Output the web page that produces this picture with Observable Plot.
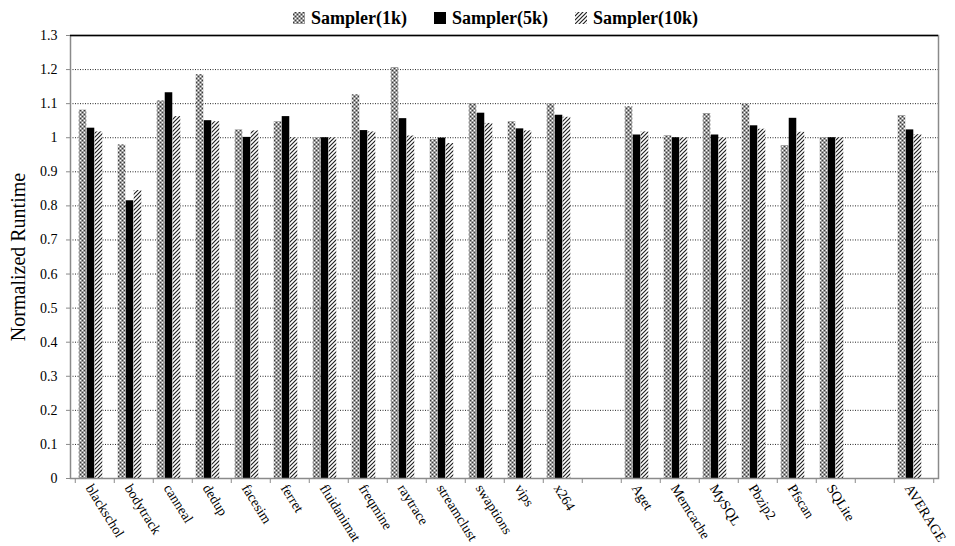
<!DOCTYPE html>
<html><head><meta charset="utf-8">
<script src="https://cdn.jsdelivr.net/npm/d3@7"></script>
<script src="https://cdn.jsdelivr.net/npm/@observablehq/plot@0.6"></script>
<style>
body{margin:0;background:#fff;font-family:"Liberation Serif","Times New Roman",serif;}
#wrap{position:relative;width:955px;height:546px;overflow:hidden;}
#legend{position:absolute;left:293px;top:0;height:32px;display:flex;align-items:center;gap:27px;font-weight:bold;font-size:18px;padding-top:4px;box-sizing:border-box;}
#legend .item{display:flex;align-items:center;gap:6px;}
#chart{position:absolute;left:0;top:0;}
</style>
</head><body>
<svg width="0" height="0" style="position:absolute"><defs>
<pattern id="p1k" patternUnits="userSpaceOnUse" width="4" height="4">
<rect width="4" height="4" fill="#9c9c9c"/>
<rect x="0" y="0" width="1" height="1" fill="#fff"/>
<rect x="2" y="2" width="1" height="1" fill="#fff"/>
<rect x="2" y="0" width="1" height="1" fill="#3a3a3a"/>
<rect x="0" y="2" width="1" height="1" fill="#3a3a3a"/>
</pattern>
<pattern id="p10k" patternUnits="userSpaceOnUse" width="4" height="4">
<rect width="4" height="4" fill="#fff"/>
<path d="M0,4 L4,0 M-1,1 L1,-1 M3,5 L5,3" stroke="#222" stroke-width="1.2"/>
</pattern>
</defs></svg>
<div id="wrap"><div id="chart"></div><div id="legend"></div></div>
<script>
const categories = ["blackschol","bodytrack","canneal","dedup","facesim","ferret","fluidanimat","freqmine","raytrace","streamclust","swaptions","vips","x264","gap1","Aget","Memcache","MySQL","Pbzip2","Pfscan","SQLite","gap2","AVERAGE"];
const series = ["Sampler(1k)","Sampler(5k)","Sampler(10k)"];
const sampler1k  = [1.081,0.979,1.108,1.185,1.023,1.047,1.000,1.126,1.206,0.995,1.100,1.047,1.100,null,1.091,1.006,1.071,1.099,0.977,1.000,null,1.065];
const sampler5k  = [1.028,0.815,1.132,1.050,1.001,1.062,1.000,1.021,1.056,0.999,1.072,1.026,1.066,null,1.008,1.000,1.008,1.035,1.057,1.000,null,1.023];
const sampler10k = [1.017,0.845,1.062,1.047,1.020,1.000,1.000,1.017,1.005,0.983,1.042,1.020,1.060,null,1.017,1.000,1.000,1.025,1.016,1.000,null,1.009];
const yTicks = [0,0.1,0.2,0.3,0.4,0.5,0.6,0.7,0.8,0.9,1,1.1,1.2,1.3];
const fills = ["url(#p1k)","#000","url(#p10k)"];

const values = [sampler1k, sampler5k, sampler10k];
const data = categories.flatMap((c,i)=>series.map((s,j)=>({cat:c, series:s, value:values[j][i]}))).filter(d=>d.value!=null);

const W=955,H=546,mL=70,mR=17,mT=35,mB=68;
const step=(W-mL-mR)/categories.length;
const barW=8;
const inset=(step-barW)/2;

const chart = Plot.plot({
  width:W,height:H,marginLeft:mL,marginRight:mR,marginTop:mT,marginBottom:mB,
  style:{fontFamily:"Liberation Serif, Times New Roman, serif",fontSize:"14px",background:"transparent",overflow:"visible",color:"#000"},
  x:{domain:categories,padding:0},
  y:{domain:[0,1.3]},
  color:{type:"ordinal",domain:series,range:fills},
  marks:[
    Plot.gridY(yTicks.filter(v=>v>0&&v<1.3),{stroke:"#000",strokeOpacity:0.85,strokeDasharray:"1,1.5"}),
    ...series.map((s,j)=>Plot.barY(data.filter(d=>d.series===s),{x:"cat",y:"value",fill:"series",insetLeft:inset,insetRight:inset,dx:(j-1)*barW-4})),
    Plot.frame({stroke:"#8a8a8a",strokeWidth:1.5}),
    Plot.ruleY([1.3],{stroke:"#000",strokeWidth:1.5}),
    Plot.axisY({ticks:yTicks,tickFormat:d=>String(+d.toFixed(1)),tickSize:4,tickPadding:9,stroke:"#8a8a8a",fontSize:14,label:null}),
    Plot.axisX({ticks:categories,tickFormat:()=>"",tickSize:5,dx:-step/2,stroke:"#8a8a8a",label:null}),
    Plot.axisX({ticks:[categories[categories.length-1]],tickFormat:()=>"",tickSize:5,dx:step/2,stroke:"#8a8a8a",label:null}),
    Plot.axisX({ticks:categories,tickFormat:d=>d.startsWith("gap")?"":d,tickSize:0,tickPadding:7,tickRotate:58,textAnchor:"start",fontSize:14,dx:-6,label:null}),
    Plot.text(["Normalized Runtime"],{frameAnchor:"left",dx:-52,rotate:-90,fontSize:20,textAnchor:"middle"})
  ]
});
document.getElementById("chart").append(chart);

const legend=d3.select("#legend");
series.forEach((s,j)=>{
  const it=legend.append("div").attr("class","item");
  it.append("svg").attr("width",12).attr("height",12).append("rect").attr("width",12).attr("height",12).attr("fill",fills[j]);
  it.append("span").text(s);
});
</script>
</body></html>
